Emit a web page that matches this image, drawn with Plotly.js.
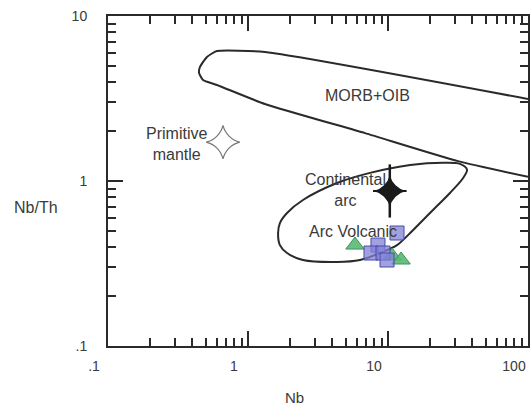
<!DOCTYPE html>
<html><head><meta charset="utf-8">
<script src="https://cdn.plot.ly/plotly-3.0.1.min.js"></script>
<style>html,body{margin:0;padding:0;background:#fff}#chart{width:530px;height:405px}</style>
</head><body><div id="chart"></div>
<script>
// MORB+OIB field outline
const morbNb   = [100, 1.32, 0.60, 0.509, 0.454, 0.447, 0.477, 0.60, 1.32, 6.85, 31.6, 100];
const morbNbTh = [3.14, 6.05, 6.13, 5.65, 4.91, 4.52, 4.09, 3.82, 2.93, 1.95, 1.32, 1.06];
// Continental arc field outline (closed)
const arcNb   = [4.32, 2.47, 1.90, 1.69, 1.64, 1.69, 1.90, 2.47, 4.32, 7.44, 14.4, 24.7, 32.7, 36.7, 34.3, 27.7, 19.95, 14.4, 11.6, 8.77, 6.31, 4.32];
const arcNbTh = [0.323, 0.332, 0.366, 0.409, 0.484, 0.556, 0.640, 0.767, 0.972, 1.12, 1.25, 1.29, 1.27, 1.17, 1.04, 0.846, 0.640, 0.484, 0.409, 0.366, 0.332, 0.323];
// Reference points
const primNb = [0.663], primNbTh = [1.72];
const contNb = [10.3],  contNbTh = [0.87];
// Samples
const triNb   = [5.81, 10.7, 12.4];
const triNbTh = [0.409, 0.351, 0.332];
const sqNb    = [11.6, 8.48, 7.56, 9.21, 9.84];
const sqNbTh  = [0.484, 0.409, 0.366, 0.366, 0.332];
// Field labels
const labelText = ['MORB+OIB', 'Primitive<br>mantle', 'Continental<br>arc', 'Arc Volcanic'];
const labelNb   = [7.08, 0.311, 4.93, 5.62];
const labelNbTh = [3.32, 1.67, 0.881, 0.491];
// Ticks
const xTickVals = [0.1, 1, 10, 100];
const xTickText = ['.1', '1', '10', '100'];
const yTickVals = [0.1, 1, 10];
const yTickText = ['.1', '1', '10'];
const minorVals = [0.2,0.3,0.4,0.5,0.6,0.7,0.8,0.9,2,3,4,5,6,7,8,9,20,30,40,50,60,70,80,90];

const FONT = 'Arial, "Liberation Sans", sans-serif';
const INK = '#2a2a2a';

const traces = [
  {x: [], y: [], xaxis: 'x2', yaxis: 'y2', mode: 'markers', hoverinfo: 'skip'},
  {x: morbNb, y: morbNbTh, mode: 'lines', line: {color: INK, width: 2, shape: 'spline', smoothing: 0.5}, hoverinfo: 'skip'},
  {x: arcNb, y: arcNbTh, mode: 'lines', line: {color: INK, width: 2, shape: 'spline', smoothing: 0.9}, hoverinfo: 'skip'},
  {x: primNb, y: primNbTh, mode: 'markers', marker: {symbol: 'star-diamond-open', size: 24, color: '#777', line: {color: '#777', width: 1.2}}},
  {x: contNb, y: contNbTh, mode: 'markers', marker: {symbol: 'line-ns', size: 38, line: {color: '#1a1a1a', width: 2.5}}},
  {x: contNb, y: contNbTh, mode: 'markers', marker: {symbol: 'line-ew', size: 24, line: {color: '#1a1a1a', width: 2}}},
  {x: contNb, y: contNbTh, mode: 'markers', marker: {symbol: 'star-diamond', size: 23, color: '#1a1a1a', line: {width: 0}}},
  {x: triNb, y: triNbTh, mode: 'markers', marker: {symbol: 'triangle-up', size: 16, color: 'rgba(90,185,115,0.9)', line: {color: 'rgba(60,150,90,1)', width: 1}}},
  {x: sqNb, y: sqNbTh, mode: 'markers', marker: {symbol: 'square', size: 14, color: 'rgba(130,130,215,0.75)', line: {color: '#4a4aa8', width: 1}}}
];

const annotations = labelText.map((t, i) => ({
  x: Math.log10(labelNb[i]), y: Math.log10(labelNbTh[i]), xref: 'x', yref: 'y', xanchor: 'center', yanchor: 'middle',
  text: t, showarrow: false, font: {family: FONT, size: 16, color: '#3a3a3a'}, align: 'center'
}));
annotations.push({xref: 'paper', yref: 'paper', x: 0.445, y: -0.155, xanchor: 'center', yanchor: 'middle', text: 'Nb', showarrow: false,
  font: {family: FONT, size: 15, color: '#3a3a3a'}});
annotations.push({xref: 'paper', yref: 'paper', x: -0.171, y: 0.42, xanchor: 'center', yanchor: 'middle', text: 'Nb/Th', showarrow: false,
  font: {family: FONT, size: 16, color: '#3a3a3a'}});

const axisCommon = {
  type: 'log', showgrid: false, zeroline: false, showline: true, linecolor: INK, linewidth: 2,
  mirror: 'ticks', ticks: 'inside', ticklen: 15, tickwidth: 2, tickcolor: INK, tickmode: 'array',
  tickfont: {family: FONT, size: 14, color: '#3a3a3a'}
};
const minorCommon = {
  type: 'log', showgrid: false, zeroline: false, showline: true, linecolor: INK, linewidth: 2,
  mirror: 'ticks', ticks: 'inside', ticklen: 8, tickwidth: 1.5, tickcolor: INK, tickmode: 'array',
  tickvals: minorVals, showticklabels: false
};

const layout = {
  width: 530, height: 405, showlegend: false,
  margin: {l: 108, r: 2, t: 16, b: 59},
  xaxis: Object.assign({}, axisCommon, {range: [-1, 2], tickvals: xTickVals, ticktext: xTickText, ticklabelshift: -14, ticklabelstandoff: 6}),
  yaxis: Object.assign({}, axisCommon, {range: [-1, 1], tickvals: yTickVals, ticktext: yTickText, ticklabelstandoff: 16}),
  xaxis2: Object.assign({}, minorCommon, {range: [-1, 2], overlaying: 'x', anchor: 'y2', side: 'bottom'}),
  yaxis2: Object.assign({}, minorCommon, {range: [-1, 1], overlaying: 'y', anchor: 'x2', side: 'left'}),
  annotations: annotations
};

Plotly.newPlot('chart', traces, layout, {displayModeBar: false});
</script></body></html>
